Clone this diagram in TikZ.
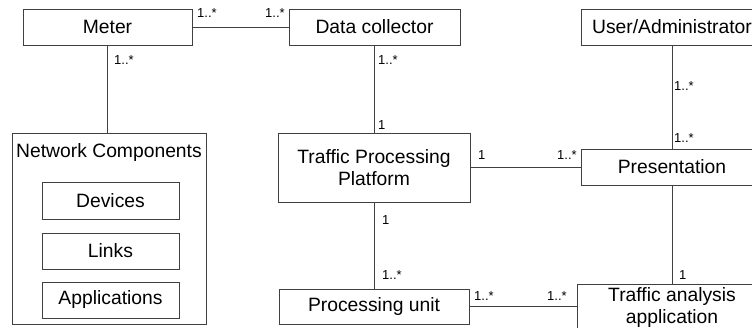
\documentclass[tikz,border=0pt]{standalone}
\usepackage{fontspec}
\setmainfont{Liberation Sans}
\definecolor{linec}{gray}{0.25}
\begin{document}
\begin{tikzpicture}[x=1pt,y=-1pt,
  box/.style={draw=linec, line width=0.9pt, minimum height=36pt, inner sep=0pt,
    align=center, font=\fontsize{19.3}{22}\selectfont},
  ttl/.style={inner sep=0pt, font=\fontsize{19.3}{22}\selectfont},
  conn/.style={draw=linec, line width=0.9pt},
  lbl/.style={inner sep=0pt, anchor=west, font=\fontsize{13}{15}\selectfont}]
\useasboundingbox (0,0) rectangle (752,327);
\clip (0,0) rectangle (752,327);
% boxes
\node[box, minimum width=169pt] (meter) at (107.5,27) {Meter};
\node[box, minimum width=171pt] (dc) at (374.5,27) {Data collector};
\node[box, minimum width=182pt] (ua) at (672,27) {User/Administrator};
\node[box, minimum width=194pt, minimum height=191pt] (nc) at (109,228.5) {};
\node[ttl] (nctitle) at (109,153) {Network Components};
\node[box, minimum width=137pt, minimum height=37pt] (dev) at (110.5,200.5) {Devices};
\node[box, minimum width=137pt, minimum height=36pt] (links) at (110.5,251) {Links};
\node[box, minimum width=137pt, minimum height=36pt] (apps) at (110.5,300) {Applications};
\node[box, minimum width=192pt, minimum height=69pt] (tpp) at (374,167.5) {Traffic Processing\\Platform};
\node[box, minimum width=182pt, minimum height=36pt] (pres) at (672,167) {Presentation};
\node[box, minimum width=190pt, minimum height=35pt] (pu) at (374,306.5) {Processing unit};
\node[box, minimum width=190pt, minimum height=47pt] (taa) at (672,307.5) {Traffic analysis\\application};
% connectors
\draw[conn] (meter.east) -- (dc.west);
\draw[conn] (meter.south) -- (meter.south |- nc.north);
\draw[conn] (dc.south) -- (dc.south |- tpp.north);
\draw[conn] (ua.south) -- (pres.north);
\draw[conn] (tpp.east |- pres.west) -- (pres.west);
\draw[conn] (tpp.south) -- (pu.north);
\draw[conn] (pu.east) -- (pu.east -| taa.west);
\draw[conn] (pres.south) -- (taa.north);
% multiplicities
\node[lbl] (l1) at (197,13) {1..*};
\node[lbl] (l2) at (265,13) {1..*};
\node[lbl] (l3) at (114,60) {1..*};
\node[lbl] (l4) at (378,60) {1..*};
\node[lbl] (l5) at (378,125) {1};
\node[lbl] (l6) at (674,86) {1..*};
\node[lbl] (l7) at (674,138) {1..*};
\node[lbl] (l8) at (478,155) {1};
\node[lbl] (l9) at (557,155) {1..*};
\node[lbl] (l10) at (382,220) {1};
\node[lbl] (l11) at (382,275) {1..*};
\node[lbl] (l12) at (474,296) {1..*};
\node[lbl] (l13) at (547,296) {1..*};
\node[lbl] (l14) at (679,275) {1};
\end{tikzpicture}
\end{document}
